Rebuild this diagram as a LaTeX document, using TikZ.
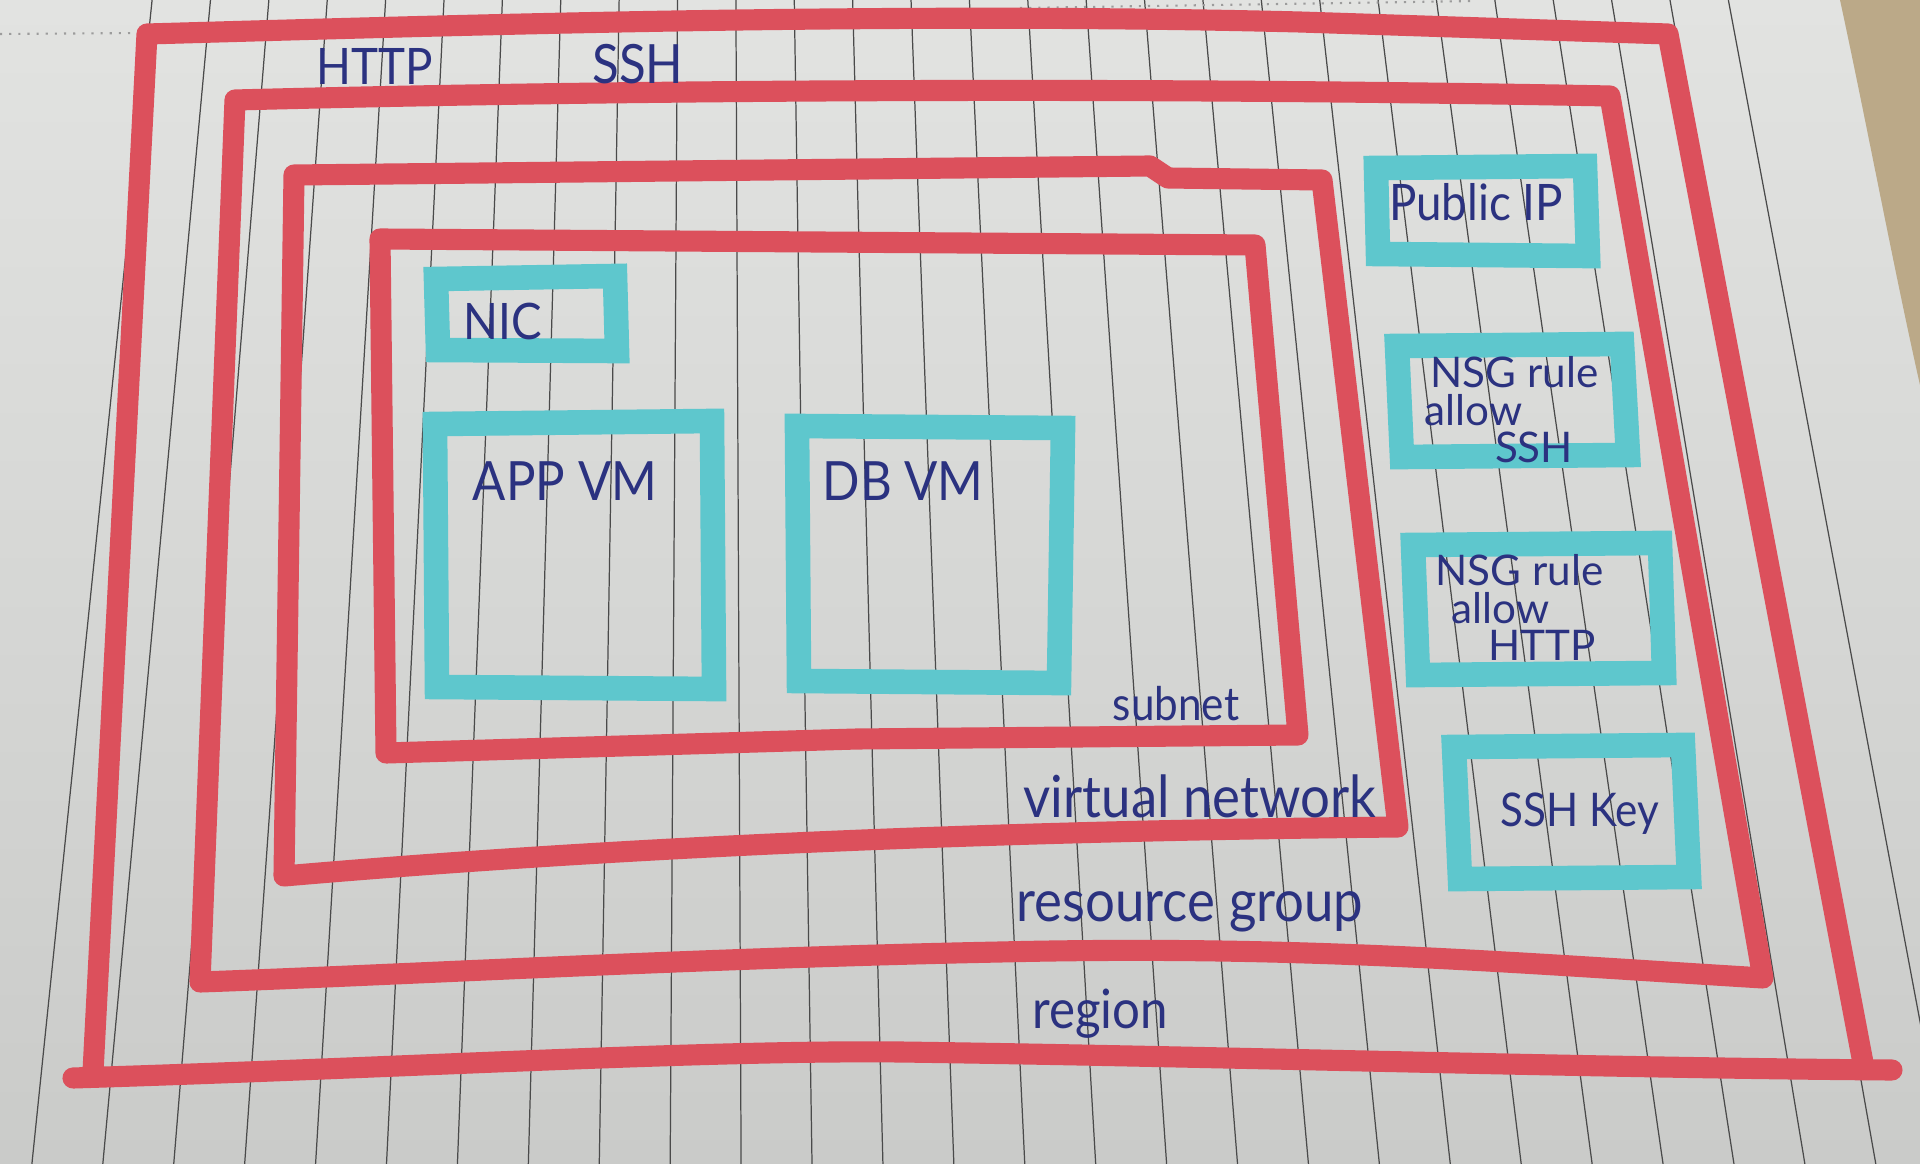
\documentclass[tikz,border=0pt]{standalone}
\usepackage{fontspec}
\setmainfont{Lato}
\usepackage{graphicx}
\definecolor{paperA}{HTML}{E2E3E1}
\definecolor{paperB}{HTML}{CACBC9}
\definecolor{rulegray}{HTML}{4A4A4A}
\definecolor{mred}{HTML}{DC505C}
\definecolor{mcyan}{HTML}{5EC7CD}
\definecolor{ink}{HTML}{2B3280}
\definecolor{sand}{HTML}{BBA988}
\newcommand{\hw}[1]{\scalebox{1}[1.1]{#1}}
\begin{document}
\begin{tikzpicture}[x=0.01cm,y=-0.01cm,
  redmark/.style={draw=mred, line width=6pt, line cap=round, line join=round},
  cyanmark/.style={draw=mcyan, line width=7pt, line cap=butt, line join=miter},
  ruleline/.style={draw=rulegray, line width=0.35pt},
  hand/.style={text=ink, inner sep=0pt, font=\fontsize{#1}{#1}\selectfont},
  hand/.default=14,
  handblock/.style={text=ink, inner sep=0pt, align=left, anchor=north west,
    font=\fontsize{12}{10.6}\selectfont}]
% paper
\useasboundingbox (0,0) rectangle (1920,1164);
\shade[top color=paperA, bottom color=paperB] (0,0) rectangle (1920,1164);
\begin{scope}
\clip (0,0) rectangle (1920,1164);
\foreach \i in {0,...,27} {
  \draw[ruleline] ({152.1+58.38*\i},0) -- ({31.9+70.92*\i},1164);
}
\end{scope}
\fill[sand] (1840,0) .. controls (1866,120) and (1894,270) .. (1920,385) -- (1920,0) -- cycle;
\draw[rulegray!55, dotted, line width=0.6pt] (0,34) -- (142,33);
\draw[rulegray!55, dotted, line width=0.6pt] (1020,8) -- (1476,1);

% region
\coordinate (rTL) at (147,34);
\coordinate (rTR) at (1668,34);
\coordinate (rBR) at (1864,1068);
\coordinate (rBL) at (93,1072);
\draw[redmark] (rBL) -- (rTL) .. controls (500,24) and (900,12) .. (1300,22) -- (rTR) -- (rBR);
\draw[redmark] (73,1078) .. controls (400,1068) and (700,1050) .. (900,1052) .. controls (1200,1056) and (1600,1068) .. (1892,1070);

% resource group
\coordinate (gTL) at (235,100);
\coordinate (gTR) at (1610,96);
\coordinate (gBR) at (1763,978);
\coordinate (gBL) at (200,982);
\draw[redmark] (gBL) -- (gTL) .. controls (700,88) and (1200,88) .. (gTR) -- (gBR) .. controls (1500,962) and (1300,945) .. (1000,952) .. controls (700,958) and (400,975) .. (gBL) -- cycle;

% virtual network
\coordinate (vTL) at (294,175);
\coordinate (vTR) at (1322,180);
\coordinate (vBR) at (1398,827);
\coordinate (vBL) at (284,876);
\draw[redmark] (vBL) -- (vTL) -- (1150,166) -- (1168,178) -- (vTR) -- (vBR) .. controls (1100,830) and (700,840) .. (vBL) -- cycle;

% subnet
\coordinate (sTL) at (380,239);
\coordinate (sTR) at (1255,245);
\coordinate (sBR) at (1298,735);
\coordinate (sBL) at (386,753);
\draw[redmark] (sBL) -- (sTL) -- (sTR) -- (sBR) -- (857,739) -- cycle;

% cyan boxes
\draw[cyanmark] (436,279) -- (615,276) -- (617,351) -- (438,350) -- cycle;        % NIC
\draw[cyanmark] (435,424) -- (712,421) -- (714,689) -- (437,687) -- cycle;        % APP VM
\draw[cyanmark] (797,426) -- (1063,428) -- (1059,683) -- (799,681) -- cycle;      % DB VM
\draw[cyanmark] (1376,168) -- (1585,166) -- (1588,256) -- (1378,254) -- cycle;    % Public IP
\draw[cyanmark] (1397,346) -- (1622,344) -- (1628,455) -- (1402,457) -- cycle;    % NSG SSH
\draw[cyanmark] (1413,545) -- (1660,543) -- (1664,673) -- (1418,675) -- cycle;    % NSG HTTP
\draw[cyanmark] (1454,747) -- (1683,745) -- (1689,877) -- (1460,879) -- cycle;    % SSH Key

% texts
\node[hand=13] (http) at (375,66) {\hw{HTTP}};
\node[hand=14] (ssh) at (638,64) {\hw{SSH}};
\node[hand=13] (pip) at (1476,202) {\hw{Public IP}};
\node[hand=13] (nic) at (503,321) {\hw{NIC}};
\node[hand=14] (appvm) at (565,481) {\hw{APP VM}};
\node[hand=14] (dbvm) at (903,481) {\hw{DB VM}};
\node[handblock] (nsgssh) at (1424,356) {\hspace*{1.7pt}NSG rule\\allow\\\hspace*{20pt}SSH};
\node[handblock] (nsghttp) at (1435,554) {NSG rule\\\hspace*{4.6pt}allow\\\hspace*{15pt}HTTP};
\node[hand=12] (sshkey) at (1580,814) {\hw{SSH Key}};
\node[hand=12] (subnet) at (1176,704) {\hw{subnet}};
\node[hand=15] (vnet) at (1200,796) {\hw{virtual network}};
\node[hand=15] (rg) at (1190,912) {\hw{resource group}};
\node[hand=14] (region) at (1100,1014) {\hw{region}};
\end{tikzpicture}
\end{document}
